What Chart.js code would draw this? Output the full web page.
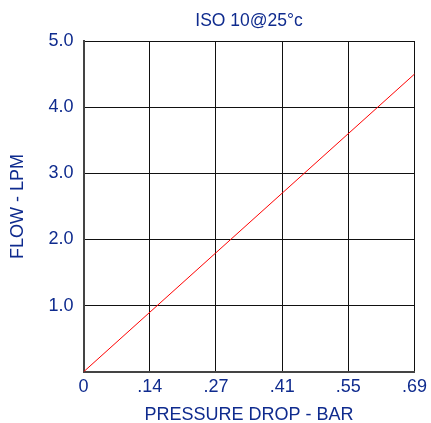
<!DOCTYPE html>
<html>
<head>
<meta charset="utf-8">
<script src="https://cdn.jsdelivr.net/npm/chart.js@4"></script>
<style>
 html, body { margin: 0; padding: 0; background: #fff; }
 #wrap { width: 431px; height: 423px; }
</style>
</head>
<body>
<div id="wrap"><canvas id="flowChart" width="431" height="423"></canvas></div>
<script>
'use strict';

// chart data
const pressureLabels = ['0', '.14', '.27', '.41', '.55', '.69']
const flowValues = [0, null, null, null, null, 4.5]
const flowTicks = [0, 1, 2, 3, 4, 5]

const textBlue = '#0f2b8e'
const fontFamily = 'Liberation Sans, Arial, sans-serif'

// draws the title centred over the plot area
const plotTitle = {
  id: 'plotTitle',
  afterDraw: (chart) => {
    const ctx = chart.ctx
    const area = chart.chartArea
    ctx.save()
    ctx.fillStyle = textBlue
    ctx.font = '17.5px ' + fontFamily
    ctx.textAlign = 'center'
    ctx.textBaseline = 'middle'
    ctx.fillText('ISO 10@25°c', (area.left + area.right) / 2, 21)
    ctx.restore()
  }
}

const chartElement = document.getElementById('flowChart')

new Chart(chartElement, {
  type: 'line',
  data: {
    labels: pressureLabels,
    datasets: [{
      data: flowValues,
      borderColor: '#ff0000',
      borderWidth: 1,
      pointRadius: 0,
      spanGaps: true,
      tension: 0
    }]
  },
  options: {
    responsive: false,
    animation: false,
    layout: { padding: { top: 41, right: 16, left: 7, bottom: -3 } },
    plugins: {
      legend: { display: false },
      tooltip: { enabled: false }
    },
    scales: {
      x: {
        type: 'category',
        offset: false,
        grid: { color: '#111', lineWidth: 1, drawTicks: false },
        border: { color: '#444', width: 2 },
        ticks: {
          color: textBlue,
          font: { family: fontFamily, size: 18 },
          padding: 4,
          maxRotation: 0,
          autoSkip: false
        },
        title: {
          display: true,
          text: 'PRESSURE DROP - BAR',
          color: textBlue,
          font: { family: fontFamily, size: 18 },
          padding: { top: 3, bottom: 0 }
        }
      },
      y: {
        min: flowTicks[0],
        max: flowTicks[flowTicks.length - 1],
        afterBuildTicks: (axis) => { axis.ticks = flowTicks.map(v => ({ value: v })) },
        grid: { color: '#111', lineWidth: 1, drawTicks: false },
        border: { color: '#444', width: 2 },
        ticks: {
          color: textBlue,
          font: { family: fontFamily, size: 18 },
          padding: 10,
          callback: (value) => value === 0 ? '' : value.toFixed(1)
        },
        title: {
          display: true,
          text: 'FLOW - LPM',
          color: textBlue,
          font: { family: fontFamily, size: 18 },
          padding: { top: 0, bottom: 10 }
        }
      }
    }
  },
  plugins: [plotTitle]
})
</script>
</body>
</html>
